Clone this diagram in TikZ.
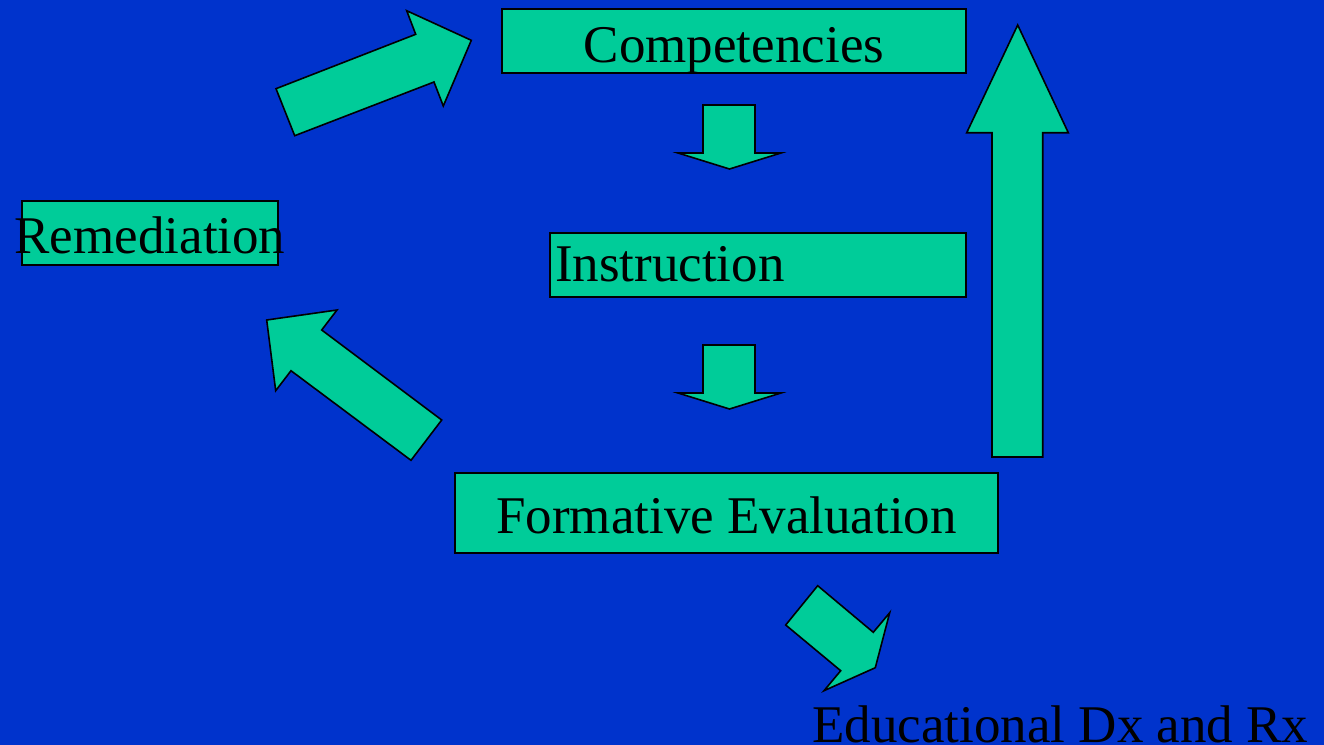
\documentclass[tikz,border=0pt]{standalone}
\usepackage{fontspec}
\setmainfont{Liberation Serif}
\usepackage{tikz}
\usetikzlibrary{positioning}

\definecolor{slideblue}{RGB}{0,51,204}
\definecolor{boxgreen}{RGB}{0,204,153}

\tikzset{
	box/.style={draw=black,fill=boxgreen,line width=0.8pt,inner sep=0pt,text depth=0pt,
		font=\fontsize{26.5pt}{30pt}\selectfont},
	blockarrow/.style={draw=black,fill=boxgreen,line width=0.8pt,line join=miter},
}

\begin{document}
\begin{tikzpicture}[x=0.5pt,y=-0.5pt]
	\useasboundingbox (0,0) rectangle (1324,745);
	\fill[slideblue] (0,0) rectangle (1324,745);
	
	\node[box,minimum width=232pt,minimum height=32pt,text height=21pt] (comp) at (734,41) {Competencies};
	\node[box,minimum height=32pt,text width=203pt,align=left,inner xsep=2.5pt,text height=16pt] (instr) at (758,265) {Instruction};
	\node[box,minimum width=128pt,minimum height=32pt,text height=20pt] (remed) at (150,233) {\makebox[0pt]{Remediation}};
	\node[box,minimum width=271.5pt,minimum height=40pt,text height=20pt] (formeval) at (726.5,513) {Formative Evaluation};
	
	\node[anchor=base west,inner sep=0pt,font=\fontsize{26.5pt}{30pt}\selectfont] (edudx) at (812,742) {Educational Dx and Rx};
	
	% block arrows
	\draw[blockarrow] (294.7,135.7)--(276,88.7)--(415.7,34.3)--(406.7,10.7)--(471.3,40.3)--(443.3,106)--(434,82)--cycle;
	\draw[blockarrow] (703,105)--(755,105)--(755,153)--(781,153)--(729.5,169)--(678,153)--(703,153)--cycle;
	\draw[blockarrow] (703,345)--(755,345)--(755,393)--(781,393)--(729.5,409)--(678,393)--(703,393)--cycle;
	\draw[blockarrow] (411,460.3)--(441.7,420)--(321.7,330)--(337,310)--(266.7,320)--(275.7,390.7)--(291,370.7)--cycle;
	\draw[blockarrow] (992,457)--(992,132.7)--(966.7,132.7)--(1017.7,25)--(1068.3,132.7)--(1042.7,132.7)--(1042.7,457)--cycle;
	\draw[blockarrow] (817.7,585.7)--(785.7,625)--(840.7,670.7)--(824,690.7)--(875.3,667.7)--(889.7,612.7)--(873.3,632.3)--cycle;
\end{tikzpicture}
\end{document}
